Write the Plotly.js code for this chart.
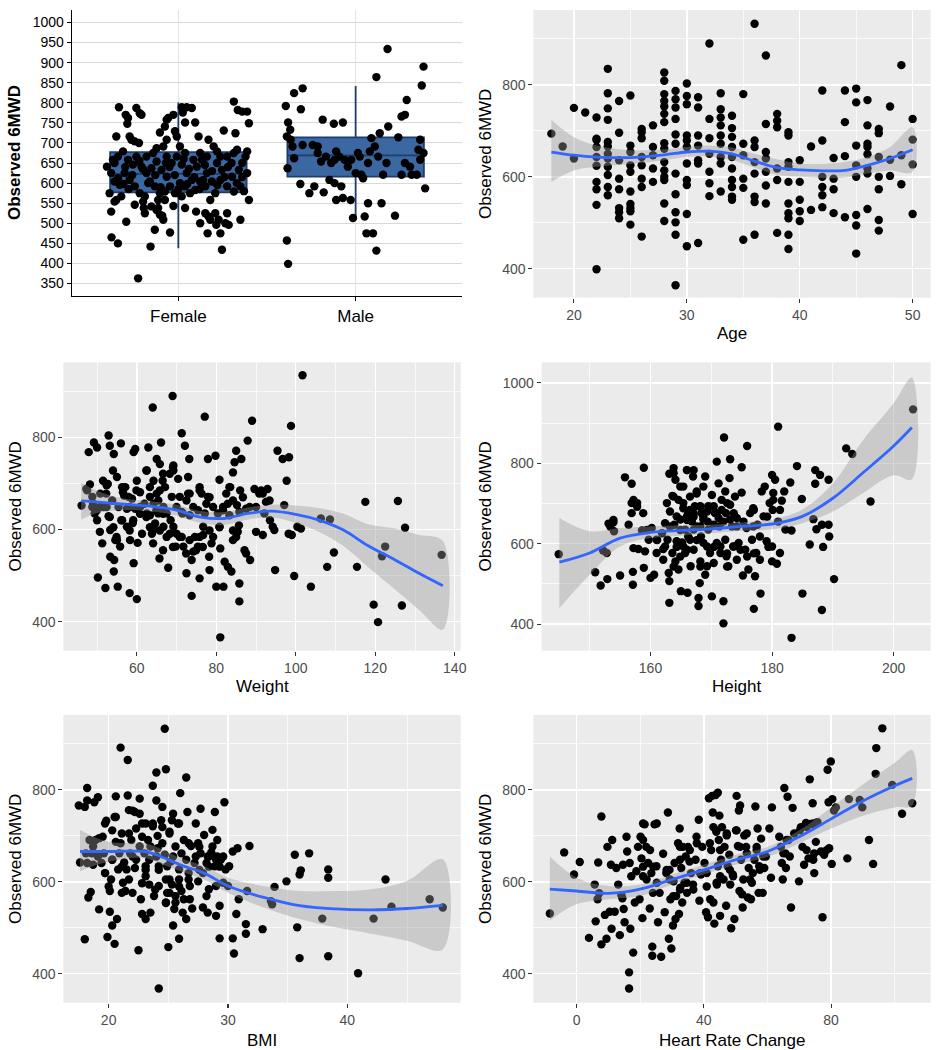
<!DOCTYPE html>
<html>
<head>
<meta charset="utf-8">
<script src="https://cdn.plot.ly/plotly-3.0.1.min.js"></script>
<style>html,body{margin:0;padding:0;background:#fff;}#chart{width:940px;height:1050px;}</style>
</head>
<body>
<div id="chart"></div>
<script>
// ---------- Panel 1: Sex (box + jitter) ----------
const sexCategories = ['Female', 'Male'];
const boxQ1 = [577, 616];
const boxMedian = [623, 669];
const boxQ3 = [677, 714];
const boxLowerFence = [438, 513];
const boxUpperFence = [801, 842];

const femalePoints = [
[0.665,789],[0.763,787],[0.782,774],[0.703,770],[0.716,762],[0.712,748],[0.650,716],[0.725,716],[0.735,708],[0.754,704],
[0.778,700],[0.792,770],[0.943,762],[0.934,758],[0.924,741],[0.972,770],[0.981,729],[0.991,716],[1.019,789],[1.025,776],
[1.047,789],[1.076,787],[1.038,751],[1.095,751],[1.114,716],[1.170,708],[1.256,731],[1.322,724],[1.313,803],[1.335,782],
[1.360,778],[1.388,778],[1.398,749],[0.896,726],[0.915,691],[0.934,708],[1.009,691],[1.199,691],
[0.597,641],[0.631,658],[0.659,666],[0.688,679],[0.716,658],[0.744,646],[0.763,666],[0.792,641],[0.820,625],[0.848,637],
[0.877,654],[0.905,633],[0.934,616],[0.962,650],[0.991,666],[1.019,646],[1.047,625],[1.076,608],[1.104,641],[1.133,658],
[1.161,625],[1.189,604],[1.218,650],[1.246,633],[1.275,666],[1.303,616],[1.331,683],[1.360,650],[1.379,666],[1.350,592],
[1.313,579],[1.275,592],[1.237,608],[1.208,575],[1.180,558],[1.152,592],[1.123,604],[1.095,583],[1.066,575],[1.038,592],
[1.009,600],[0.981,575],[0.953,592],[0.924,579],[0.896,575],[0.867,592],[0.839,604],[0.811,567],[0.782,575],[0.754,592],
[0.725,608],[0.697,625],[0.669,596],[0.640,604],[0.621,625],[0.612,575],[0.650,558],[0.678,567],[0.820,666],[0.858,675],
[1.123,675],[1.161,666],[1.218,679],[1.237,666],[1.313,675],[1.341,633],[1.388,625],[1.388,679],[1.038,675],[1.085,658],
[0.934,666],[0.877,687],[1.019,567],[0.924,558],[0.886,558],[0.801,554],[0.848,542],[0.886,538],
[0.66,612],[0.70,640],[0.74,620],[0.78,655],[0.83,600],[0.87,620],[0.90,590],[0.95,640],[0.98,620],[1.00,585],
[1.03,660],[1.06,635],[1.09,615],[1.12,585],[1.15,645],[1.19,630],[1.22,595],[1.26,615],[1.30,650],[1.33,600],
[1.36,615],[1.37,580],[0.72,585],[0.80,635],[0.93,650],[1.05,598],[1.14,608],[1.28,640],[0.64,650],[0.69,598],
[0.621,529],[0.640,554],[0.706,504],[0.623,465],[0.659,450],[0.754,546],[0.805,538],[0.811,525],[0.843,442],[0.867,484],
[0.877,533],[0.896,521],[0.909,519],[0.915,509],[0.953,477],[0.972,543],[1.038,538],[1.100,529],[1.123,500],[1.152,525],
[1.170,517],[1.180,509],[1.208,525],[1.214,496],[1.227,509],[1.237,475],[1.246,434],[1.265,500],[1.275,525],[1.284,496],
[1.350,509],[1.398,558],[0.773,363],[1.165,475]
];

const malePoints = [
[1.606,792],[1.653,824],[1.701,836],[1.691,784],[1.619,751],[1.631,733],[1.612,716],[1.634,708],[1.616,637],[1.644,691],
[1.653,662],[1.701,695],[1.758,695],[1.688,598],[1.739,575],[1.767,592],[1.814,758],[1.820,577],[1.877,748],[1.928,751],
[1.786,675],[1.805,654],[1.833,666],[1.862,650],[1.890,679],[1.909,666],[1.938,658],[1.956,641],[1.881,600],[1.919,592],
[1.928,563],[1.890,558],[1.972,558],[1.985,513],[2.013,675],[2.032,621],[2.042,612],[2.070,550],[2.061,475],[2.098,475],
[2.117,432],[2.089,712],[2.108,691],[2.136,724],[2.117,864],[2.146,550],[2.155,621],[2.184,741],[2.180,934],[2.174,650],
[2.127,666],[2.070,650],[2.080,679],[2.222,519],[2.241,714],[2.259,766],[2.278,770],[2.288,807],[2.278,650],[2.307,641],
[2.259,621],[2.316,621],[2.345,621],[2.354,683],[2.364,708],[2.383,675],[2.373,843],[2.383,890],[2.392,587],[2.364,658],
[1.612,457],[1.619,399],[1.786,691],[1.975,658],[2.051,517],[1.881,658],[2.000,625],[1.852,608],[2.023,666]
];

// ---------- Panel 2: Age ----------
const agePoints = [
[18,694],[19,666],[20,750],[20,640],[21,740],
[22,729],[22,683],[22,680],[22,665],[22,643],[22,624],[22,589],[22,573],[22,539],[22,399],
[23,835],[23,782],[23,749],[23,724],[23,676],[23,666],[23,650],[23,640],[23,622],[23,604],[23,578],[23,560],
[24,765],[24,696],[24,636],[24,596],[24,573],[24,532],[24,523],[24,510],
[25,777],[25,668],[25,654],[25,625],[25,611],[25,568],[25,541],[25,532],[25,525],[25,496],
[26,704],[26,697],[26,684],[26,643],[26,625],[26,596],[26,578],[26,470],
[27,712],[27,665],[27,647],[27,618],[27,589],
[28,827],[28,809],[28,780],[28,765],[28,753],[28,737],[28,719],[28,673],[28,661],[28,632],[28,614],[28,600],[28,593],[28,542],[28,504],
[29,787],[29,769],[29,751],[29,726],[29,692],[29,672],[29,607],[29,562],[29,523],[29,501],[29,474],[29,364],
[30,803],[30,776],[30,758],[30,690],[30,679],[30,665],[30,629],[30,593],[30,582],[30,519],[30,449],
[31,773],[31,751],[31,690],[31,668],[31,636],[31,629],[31,456],
[32,890],[32,726],[32,684],[32,650],[32,611],[32,586],[32,558],
[33,782],[33,747],[33,729],[33,712],[33,690],[33,672],[33,643],[33,629],[33,568],
[34,733],[34,706],[34,687],[34,665],[34,643],[34,618],[34,593],[34,578],[34,557],[34,550],
[35,780],[35,672],[35,647],[35,596],[35,576],[35,463],
[36,933],[36,679],[36,665],[36,632],[36,607],[36,557],[36,545],[36,474],
[37,864],[37,715],[37,654],[37,640],[37,611],[37,581],[37,542],
[38,737],[38,722],[38,708],[38,618],[38,593],[38,478],
[39,697],[39,690],[39,632],[39,622],[39,589],[39,542],[39,521],[39,510],[39,474],[39,443],
[40,636],[40,589],[40,550],[40,525],[40,504],
[41,666],[41,528],
[42,788],[42,679],[42,600],[42,578],[42,560],[42,534],
[43,641],[43,596],[43,573],[43,521],
[44,788],[44,719],[44,645],[44,512],
[45,792],[45,762],[45,668],[45,625],[45,600],[45,517],[45,494],[45,433],
[46,767],[46,712],[46,672],[46,665],[46,649],[46,618],[46,607],[46,530],
[47,704],[47,695],[47,643],[47,600],[47,573],[47,506],[47,483],
[48,753],[48,637],[48,602],
[49,843],[49,647],[49,584],
[50,726],[50,681],[50,627],[50,519]
];
const ageFitX = [18,20,22,25,28,30,32,34,36,38,40,42,44,46,48,50];
const ageFit  = [654,647,643,642,648,654,656,650,634,620,615,613,614,625,640,659];
const ageHi   = [724,686,668,658,660,665,668,664,650,638,629,628,632,643,665,708];
const ageLo   = [589,614,622,628,636,643,644,636,620,604,600,597,598,607,614,611];

// ---------- Panel 3: Weight ----------
const weightPoints = [
[46.1,652],[47.3,688],[48.2,698],[48.8,671],[47.9,768],[49.2,789],[50.0,778],[49.4,635],[50.0,620],[50.2,496],
[50.7,595],[51.3,570],[50.8,649],[52.1,473],[52.3,678],[52.7,699],[52.9,804],[53.2,782],[52.9,629],[53.3,541],
[54.2,764],[54.0,728],[54.3,534],[54.2,509],[54.6,577],[55.0,577],[55.2,476],[55.0,714],[56.0,787],[56.3,692],
[56.3,620],[56.5,681],[56.8,674],[57.5,645],[57.9,671],[58.2,462],[58.3,577],[59.0,614],[59.2,768],[59.6,775],
[60.0,706],[59.2,527],[60.0,449],[60.2,571],[60.8,681],[61.3,591],[61.9,656],[62.9,778],[62.5,728],[63.3,631],
[63.8,591],[64.0,865],[64.2,706],[64.6,613],[65.0,753],[65.0,678],[65.4,635],[65.7,537],[65.8,742],[66.1,789],
[66.5,706],[67.1,692],[67.5,584],[67.9,517],[68.3,721],[68.5,620],[69.0,890],[69.2,728],[69.2,739],[69.8,563],
[70.0,591],[70.4,710],[70.8,671],[71.3,809],[71.5,635],[71.7,563],[72.1,782],[72.5,505],[72.9,714],[72.9,678],
[73.2,753],[73.3,631],[73.8,534],[73.8,456],[74.2,552],[74.6,584],[75.4,563],[75.8,692],[75.8,494],[76.3,678],
[76.7,588],[77.1,635],[77.1,845],[77.9,753],[77.9,671],[78.2,541],[78.3,512],[78.8,570],[79.8,760],[80.0,476],
[80.4,635],[80.8,708],[80.8,606],[81.0,559],[81.0,366],[81.8,476],[82.1,530],[82.5,678],[82.9,519],[83.3,631],
[83.5,692],[83.8,509],[84.2,724],[84.6,746],[85.0,771],[85.2,653],[85.4,595],[85.7,609],[85.8,483],[85.8,444],
[86.0,685],[86.3,753],[87.1,555],[87.5,548],[87.9,793],[88.5,534],[89.0,836],[89.6,688],[90.0,595],[90.8,678],
[91.7,588],[92.1,635],[92.5,660],[92.9,688],[93.5,620],[94.2,606],[94.6,599],[94.8,512],[95.4,771],[96.7,753],
[97.1,653],[97.7,706],[98.2,591],[98.3,757],[98.8,825],[99.0,588],[99.6,499],[100.4,606],[101.3,602],[101.7,935],
[103.8,476],[106.3,624],[107.9,519],[108.6,622],[109.6,550],[115.4,519],[117.5,660],[119.6,437],[120.7,399],[121.7,542],
[122.5,563],[125.7,662],[126.7,435],[127.5,604],[136.7,545],
[47.5,685],[48.8,649],[50.8,678],[51.7,649],[53.8,663],[55.4,649],[57.1,692],[58.8,667],[59.6,645],[60.8,649],
[62.5,635],[63.3,671],[64.2,656],[65.4,663],[66.7,649],[67.5,635],[68.8,671],[70.0,649],[71.3,638],[72.5,663],
[74.2,649],[75.4,642],[77.5,656],[79.2,649],[81.7,642],[82.9,656],[84.2,663],[85.8,638],[87.5,645],[90.0,649],
[91.3,685],[64.2,599],[66.7,606],[69.2,606],[71.3,584],[76.7,606],[79.2,584],[84.2,577],[57.5,606],[55.8,563],[53.3,599],
[56.1,620],[59.1,620],[63.3,605],[65.8,598],[68.3,591],[70.8,584],[69.1,562],[73.3,577],[75.8,584],[76.6,562],
[78.3,598],[80.8,605],[84.2,598],[85.0,584],[54.1,605],[53.2,627],[62.4,627],[64.9,641],[66.6,634],[56.6,692],
[59.9,685],[62.4,728],[66.6,721],[69.1,735],[63.3,692],[65.8,685],[73.3,678],[75.8,685],[78.3,670],[83.3,692],
[86.7,670],[88.4,649],[91.7,678],[93.4,663],[81.7,649],[49.0,656],[49.9,641],[51.5,706],[52.4,649],[58.2,649],
[60.8,634],[54.9,584],[58.2,598],[64.1,570],[66.6,555],[72.4,548],[74.9,555],[52.4,696]
];
const weightFitX = [46,50,55,60,65,70,76,82,88,94,100,106,112,118,125,131,137];
const weightFit  = [662,660,656,653,649,642,627,624,635,640,633,620,599,566,534,505,478];
const weightHi   = [702,684,670,664,660,654,640,638,648,654,652,646,634,612,602,588,575];
const weightLo   = [622,636,642,642,638,630,614,610,622,626,614,594,564,520,470,426,383];

// ---------- Panel 4: Height ----------
const heightPoints = [
[144.9,574],[150.9,529],[151.8,496],[152.2,583],[152.8,577],[152.9,512],[153.1,650],[153.9,653],[154.0,631],[155.0,521],
[155.8,765],[156.4,647],[156.9,749],[156.9,701],[156.9,676],[157.2,589],[157.1,530],[157.1,498],[157.8,701],[158.0,587],
[158.6,633],[158.8,676],[158.9,789],[158.9,540],[159.1,581],[159.7,610],[160.0,515],[160.2,639],[160.6,523],[161.0,610],
[161.9,626],[162.1,587],[162.4,651],[162.7,701],[162.8,610],[163.0,527],[163.1,507],[163.1,453],[163.1,774],[163.2,680],
[163.6,719],[163.6,577],[163.8,788],[163.9,647],[164.1,556],[164.1,759],[164.3,592],[164.6,709],[164.6,536],[164.9,660],
[165.0,482],[165.2,603],[165.4,742],[165.4,688],[165.7,635],[165.7,577],[166.0,783],[166.1,478],[166.2,676],[166.5,717],
[166.5,610],[166.6,544],[166.8,655],[167.0,767],[167.1,585],[167.3,693],[167.6,730],[167.6,643],[167.9,465],[167.9,445],
[168.1,502],[168.2,556],[168.3,618],[168.4,676],[168.7,602],[168.7,742],[169.0,767],[169.0,523],[169.3,544],[169.4,655],
[169.5,693],[169.8,577],[170.1,721],[170.1,469],[170.4,592],[170.6,676],[170.9,804],[170.9,602],[171.2,750],[171.3,643],
[171.5,577],[171.7,709],[172.0,457],[172.0,402],[172.1,864],[172.3,730],[172.3,610],[172.4,676],[172.5,569],[172.8,544],
[173.0,763],[173.1,810],[173.1,697],[173.4,643],[173.6,593],[173.9,717],[174.2,664],[174.2,560],[174.5,602],[175.0,727],
[175.0,790],[175.2,521],[175.6,585],[175.8,639],[175.9,843],[176.1,536],[176.4,676],[176.7,610],[176.9,688],[177.0,438],
[177.2,519],[177.4,577],[177.6,647],[178.0,560],[178.1,476],[178.3,730],[178.6,668],[178.8,742],[179.1,606],[179.4,592],
[179.6,701],[180.0,771],[180.0,593],[180.0,556],[180.1,684],[180.2,726],[180.5,759],[180.8,550],[181.0,891],[181.0,655],
[181.3,577],[181.6,707],[182.0,730],[182.2,635],[183.0,752],[183.2,633],[183.2,366],[184.1,793],[184.9,711],[185.0,476],
[186.2,598],[186.8,661],[187.1,783],[187.1,749],[187.3,636],[187.9,771],[188.2,647],[188.2,435],[188.4,592],[189.3,759],
[189.3,647],[189.4,618],[190.2,512],[192.2,837],[193.2,823],[196.2,705],[203.2,934],
[164.3,606],[165.4,593],[166.2,618],[167.1,635],[168.2,643],[168.7,660],[169.5,635],[170.4,647],[171.2,664],[172.0,655],
[173.1,660],[174.2,643],[175.3,655],[166.0,668],[167.1,676],[168.2,693],[169.3,680],[170.4,693],[171.7,684],[164.3,668],
[163.2,643],[162.4,593],[161.0,577],[176.9,643],[178.0,618],
[163.8,775],[166.0,783],[167.1,783],[164.9,742],[167.6,725],[163.8,717],[165.4,701],[166.5,684],[168.2,692],[169.8,692],
[170.9,676],[172.6,701],[173.7,676],[167.1,667],[168.7,667],[166.0,659],[164.9,634],[167.6,609],[169.3,593],[166.0,585],
[164.9,568],[171.5,593],[172.6,576],[173.7,593],[174.8,585],[175.9,568],[162.1,560],[161.1,609],[159.4,634],[157.2,709],
[157.8,692],[153.9,659],[153.4,642],[177.0,684],[179.2,667],[180.2,709],[181.3,684],[170.4,552],[168.2,543],[163.8,543],
[172.6,543],[177.0,576]
];
const heightFitX = [145,150,155,160,165,170,175,180,185,190,195,200,203];
const heightFit  = [554,577,614,628,633,637,643,649,668,713,777,843,889];
const heightHi   = [664,631,639,643,646,647,653,660,685,750,858,949,1013];
const heightLo   = [440,523,593,614,620,626,632,636,651,680,726,770,760];

// ---------- Panel 5: BMI ----------
const bmiPoints = [
[17.6,642],[17.5,766],[18.0,763],[18.0,475],[18.2,804],[18.2,777],[18.2,641],[18.3,566],[18.4,691],[18.5,578],
[18.7,637],[18.8,773],[19.1,784],[19.2,540],[19.2,695],[19.4,641],[19.5,698],[19.7,619],[19.8,733],[19.9,480],
[20.1,535],[20.1,580],[20.2,605],[20.3,505],[20.5,465],[20.5,741],[20.6,687],[20.6,786],[20.7,519],[20.8,627],
[20.9,662],[21.0,892],[21.1,705],[21.2,598],[21.3,642],[21.4,580],[21.6,865],[21.6,788],[21.7,756],[21.8,662],
[21.9,691],[22.0,576],[22.2,752],[22.2,630],[22.3,716],[22.5,451],[22.6,781],[22.7,562],[22.8,530],[22.8,727],
[23.0,662],[23.1,519],[23.1,612],[23.3,691],[23.4,594],[23.4,648],[23.5,533],[23.7,809],[23.7,721],[23.8,569],
[24.0,838],[24.0,777],[24.1,700],[24.1,673],[24.2,368],[24.2,634],[24.4,734],[24.5,763],[24.7,659],[24.7,933],
[24.8,845],[24.8,605],[24.9,576],[25.0,458],[25.1,709],[25.2,644],[25.3,594],[25.4,748],[25.4,505],[25.6,677],
[25.6,555],[25.8,727],[25.9,627],[25.9,476],[26.0,793],[26.1,580],[26.1,662],[26.2,533],[26.3,691],[26.5,519],
[26.5,827],[26.6,752],[26.7,619],[26.8,562],[26.9,678],[27.0,542],[27.2,641],[27.3,727],[27.5,684],[27.5,601],
[27.7,759],[27.7,662],[27.9,544],[28.0,702],[28.2,641],[28.3,533],[28.4,584],[28.6,664],[28.7,713],[28.9,752],
[28.9,634],[29.0,526],[29.1,691],[29.3,548],[29.3,477],[29.4,648],[29.6,598],[29.7,773],[29.8,627],[30.0,591],
[30.1,634],[30.4,477],[30.4,666],[30.5,444],[30.7,530],[30.8,673],[30.9,562],[31.5,508],[31.5,487],[31.6,580],
[31.8,678],[32.9,497],[33.6,558],[33.7,551],[33.9,589],[34.9,601],[35.6,659],[35.8,501],[36.0,434],[36.0,616],
[36.1,625],[36.8,662],[37.9,520],[38.4,627],[38.4,609],[38.4,438],[40.9,401],[42.2,520],[43.2,605],[43.7,546],
[46.9,562],[48.0,544],
[18.1,662],[18.7,677],[19.1,655],[19.6,662],[20.3,648],[21.0,684],[21.5,627],[22.0,655],[22.6,677],[23.1,634],
[23.5,677],[24.0,655],[24.5,684],[24.9,634],[25.4,655],[25.9,605],[26.5,648],[26.8,591],[27.3,655],[27.9,619],
[28.3,655],[28.7,677],[29.1,655],[29.6,655],[29.0,591],[28.2,569],[24.2,591],[24.8,555],[25.5,541],[26.3,562],
[19.7,727],[20.3,712],[20.6,741],[22.0,755],[22.6,748],[23.1,727],[23.7,727],[24.5,719],[25.3,734],[25.9,727],
[21.7,705],[22.8,698],[25.1,705],[26.7,684],[27.6,676],[28.4,655],[29.0,648],[28.4,633],[29.3,633],[20.3,648],
[21.1,633],[22.3,648],[23.1,626],[24.2,626],[25.1,605],[25.9,590],[26.7,605],[27.6,626],[19.7,619],[20.0,590],
[21.1,576],[22.8,597],[23.9,583],[25.1,576],[25.6,569],[24.8,554],[21.7,605],[18.9,691],[18.6,662]
];
const bmiFitX = [17.6,20,23,24,26,28,30,33,36,39,42,45,48];
const bmiFit  = [666,666,666,659,637,619,591,566,548,541,539,542,549];
const bmiHi   = [713,687,684,676,652,634,609,591,580,580,584,602,649];
const bmiLo   = [623,644,652,643,623,605,576,544,519,501,487,472,453];

// ---------- Panel 6: Heart Rate Change ----------
const hrPoints = [
[-8.4,531],[-3.9,664],[-0.8,616],[1.0,643],[3.9,478],[5.7,594],[6.0,514],[6.6,562],[6.8,642],[7.1,575],
[7.8,742],[7.8,464],[8.9,528],[9.4,476],[9.7,676],[10.4,535],[10.8,637],[11.0,498],[11.2,691],[12.0,535],
[12.5,630],[13.1,594],[13.6,484],[14.1,571],[14.4,564],[14.6,637],[14.8,541],[15.1,512],[15.7,698],[15.9,666],
[16.5,403],[16.5,368],[16.7,641],[16.9,498],[17.2,612],[17.8,446],[18.3,555],[18.8,623],[19.3,676],[19.8,562],
[20.1,698],[20.4,651],[20.7,521],[20.9,612],[21.4,725],[21.9,676],[22.5,641],[23.0,542],[23.5,619],[23.8,459],
[23.8,439],[24.0,576],[24.5,725],[25.1,634],[25.6,512],[26.1,576],[26.6,437],[27.2,661],[27.7,534],[28.2,619],
[28.7,751],[29.0,476],[29.2,626],[29.5,562],[29.8,455],[30.3,505],[30.5,601],[30.8,641],[31.1,519],[31.3,569],
[31.9,684],[32.2,530],[32.4,716],[32.6,587],[32.9,630],[33.2,555],[33.4,676],[33.9,598],[34.3,655],[34.7,576],
[35.0,676],[35.5,644],[36.0,619],[36.6,594],[37.4,648],[37.8,684],[38.4,735],[38.6,559],[39.1,616],[39.5,676],
[40.2,641],[40.7,534],[40.9,619],[41.3,523],[41.6,782],[42.0,562],[42.3,669],[42.6,787],[42.8,751],[43.0,555],
[43.3,509],[43.7,789],[43.9,709],[44.1,594],[44.4,794],[44.4,634],[44.7,691],[44.9,744],[45.1,526],[45.4,648],
[45.7,719],[46.2,605],[46.5,676],[47.0,548],[47.2,701],[47.5,634],[48.0,659],[48.3,594],[48.6,499],[49.1,616],
[49.6,519],[50.1,712],[50.3,787],[50.7,678],[51.0,755],[51.2,580],[51.4,766],[51.7,648],[52.0,573],[52.2,544],
[52.4,605],[52.7,701],[53.3,676],[53.8,566],[54.1,630],[54.8,562],[55.1,598],[55.4,619],[55.9,648],[56.2,764],
[56.6,676],[56.9,716],[57.2,576],[57.4,634],[58.0,694],[58.5,576],[59.0,630],[59.5,655],[60.6,716],[61.1,609],
[61.4,762],[63.7,698],[64.2,676],[64.5,641],[64.8,605],[65.3,804],[65.6,662],[65.8,630],[66.3,785],[66.6,691],
[67.0,655],[67.4,544],[67.9,761],[68.4,705],[69.9,601],[70.5,719],[71.0,676],[71.5,637],[72.1,728],[72.9,651],
[73.3,823],[73.6,726],[74.2,771],[74.7,662],[74.7,619],[75.2,687],[75.7,730],[76.8,666],[77.3,523],[77.8,659],
[78.9,844],[79.2,773],[79.4,673],[79.9,862],[80.2,639],[80.4,780],[80.9,755],[81.5,762],[85.1,651],[85.6,780],
[89.0,778],[89.8,762],[91.9,691],[93.2,639],[94.0,835],[94.2,891],[96.1,934],[99.2,811],[102.3,748],[105.5,771],
[20.9,727],[25.2,727],[20.9,691],[23.1,669],[20.9,633],[24.1,633],[28.3,626],[32.5,648],[35.6,669],[32.5,676],
[37.7,698],[41.9,684],[45.1,669],[44.0,712],[47.2,705],[50.3,712],[53.5,705],[51.4,676],[53.5,662],[56.6,669],
[48.2,626],[45.1,612],[38.8,619],[34.6,598],[32.5,583],[36.7,583],[40.9,590],[44.0,598],[49.2,612],[54.5,605],
[57.6,626],[58.7,655],[25.2,598],[22.0,605],[29.3,605],[30.4,569],[43.0,719],[72.3,719],[74.4,727],[70.2,712],
[66.0,691],[65.0,662],[72.3,669],[74.4,648],[78.6,669]
];
const hrFitX = [-8.4,0,10,20,30,40,50,60,70,80,90,100,105.5];
const hrFit  = [584,580,575,584,605,626,648,666,698,737,776,809,825];
const hrHi   = [655,609,591,594,616,637,659,676,712,762,812,859,887];
const hrLo   = [516,551,562,569,594,616,637,654,684,716,744,762,766];

// ---------- Build figure ----------
const FONT = 'Liberation Sans, Arial, Helvetica, sans-serif';
const W = 940, H = 1050;
const px = v => v / W;
const py = v => 1 - v / H;
const DOT = 8.4;

function pointsTrace(pts, xa, ya) {
  return {type: 'scatter', mode: 'markers', x: pts.map(p => p[0]), y: pts.map(p => p[1]),
    xaxis: xa, yaxis: ya, marker: {color: '#000000', size: DOT, line: {width: 0}}, hoverinfo: 'skip'};
}
function ribbonTrace(fx, hi, lo, xa, ya) {
  return {type: 'scatter', mode: 'lines', x: fx.concat(fx.slice().reverse()),
    y: hi.concat(lo.slice().reverse()), fill: 'toself', fillcolor: 'rgba(153,153,153,0.4)',
    line: {width: 0, shape: 'spline'}, xaxis: xa, yaxis: ya, hoverinfo: 'skip'};
}
function fitTrace(fx, fy, xa, ya) {
  return {type: 'scatter', mode: 'lines', x: fx, y: fy, line: {color: '#3366FF', width: 2.8, shape: 'spline'},
    xaxis: xa, yaxis: ya, hoverinfo: 'skip'};
}

const traces = [
  {type: 'box', x: [1, 2], q1: boxQ1, median: boxMedian, q3: boxQ3, lowerfence: boxLowerFence,
   upperfence: boxUpperFence, width: 0.77, whiskerwidth: 0, boxpoints: false,
   fillcolor: '#3B68A3', line: {color: '#1E3C6C', width: 1.8}, xaxis: 'x', yaxis: 'y', hoverinfo: 'skip'},
  pointsTrace(femalePoints, 'x', 'y'),
  pointsTrace(malePoints, 'x', 'y'),
  pointsTrace(agePoints, 'x2', 'y2'),
  ribbonTrace(ageFitX, ageHi, ageLo, 'x2', 'y2'),
  fitTrace(ageFitX, ageFit, 'x2', 'y2'),
  pointsTrace(weightPoints, 'x3', 'y3'),
  ribbonTrace(weightFitX, weightHi, weightLo, 'x3', 'y3'),
  fitTrace(weightFitX, weightFit, 'x3', 'y3'),
  pointsTrace(heightPoints, 'x4', 'y4'),
  ribbonTrace(heightFitX, heightHi, heightLo, 'x4', 'y4'),
  fitTrace(heightFitX, heightFit, 'x4', 'y4'),
  pointsTrace(bmiPoints, 'x5', 'y5'),
  ribbonTrace(bmiFitX, bmiHi, bmiLo, 'x5', 'y5'),
  fitTrace(bmiFitX, bmiFit, 'x5', 'y5'),
  pointsTrace(hrPoints, 'x6', 'y6'),
  ribbonTrace(hrFitX, hrHi, hrLo, 'x6', 'y6'),
  fitTrace(hrFitX, hrFit, 'x6', 'y6')
];

function ggAxis(domain, range, dtick, minorDtick, anchor) {
  return {domain: domain, range: range, tick0: 0, dtick: dtick, anchor: anchor,
    showgrid: true, gridcolor: '#FFFFFF', gridwidth: 1.4,
    minor: {dtick: minorDtick, tick0: 0, showgrid: true, gridcolor: '#FFFFFF', gridwidth: 0.7},
    zeroline: false, showline: false, ticks: 'outside', ticklen: 4, tickwidth: 1.1, tickcolor: '#333333',
    tickfont: {family: FONT, size: 14, color: '#4D4D4D'}, fixedrange: true};
}

const layout = {
  width: W, height: H, margin: {l: 0, r: 0, t: 0, b: 0},
  paper_bgcolor: '#FFFFFF', plot_bgcolor: '#EBEBEB', showlegend: false,
  font: {family: FONT},
  xaxis: {domain: [px(72), px(462)], range: [0.4, 2.6], anchor: 'y', tickvals: [1, 2], ticktext: sexCategories,
    showgrid: true, gridcolor: '#E3E3E3', gridwidth: 1, zeroline: false, showline: true, linecolor: '#000000', linewidth: 1.3,
    ticks: 'outside', ticklen: 4, tickcolor: '#000000', tickfont: {family: FONT, size: 17, color: '#000000'}, fixedrange: true},
  yaxis: {domain: [py(296), py(10)], range: [319, 1031], anchor: 'x', tick0: 0, dtick: 50,
    showgrid: true, gridcolor: '#D9D9D9', gridwidth: 1, zeroline: false, showline: true, linecolor: '#000000', linewidth: 1.3,
    ticks: 'outside', ticklen: 4, tickcolor: '#000000', tickfont: {family: FONT, size: 14, color: '#000000'}, fixedrange: true},
  xaxis2: ggAxis([px(533.3), px(930.7)], [16.4, 51.6], 10, 5, 'y2'),
  yaxis2: ggAxis([py(297.7), py(10)], [337, 963], 200, 100, 'x2'),
  xaxis3: ggAxis([px(63.3), px(460.7)], [41.5, 141.5], 20, 10, 'y3'),
  yaxis3: ggAxis([py(650.7), py(362.3)], [337, 963], 200, 100, 'x3'),
  xaxis4: ggAxis([px(541.7), px(930.7)], [142.1, 206.1], 20, 10, 'y4'),
  yaxis4: ggAxis([py(650.7), py(362.3)], [334, 1051], 200, 100, 'x4'),
  xaxis5: ggAxis([px(63.3), px(460.7)], [16.2, 49.5], 10, 5, 'y5'),
  yaxis5: ggAxis([py(1002.7), py(715)], [337, 963], 200, 100, 'x5'),
  xaxis6: ggAxis([px(533.3), px(930.7)], [-13.6, 111.3], 40, 20, 'y6'),
  yaxis6: ggAxis([py(1002.7), py(715)], [337, 963], 200, 100, 'x6'),
  shapes: [
    {type: 'rect', xref: 'x domain', yref: 'y domain', x0: 0, x1: 1, y0: 0, y1: 1,
     fillcolor: '#FFFFFF', line: {width: 0}, layer: 'below'}
  ],
  annotations: []
};

function title(text, xPix, yPix, rot, bold) {
  layout.annotations.push({text: bold ? '<b>' + text + '</b>' : text, xref: 'paper', yref: 'paper',
    x: px(xPix), y: py(yPix), xanchor: 'center', yanchor: 'middle', showarrow: false,
    textangle: rot ? -90 : 0, font: {family: FONT, size: 17, color: '#000000'}});
}
title('Observed 6MWD', 15, 153, true, true);
title('Observed 6MWD', 485, 154, true, false);
title('Age', 732, 333, false, false);
title('Observed 6MWD', 15, 506.5, true, false);
title('Weight', 262, 686.7, false, false);
title('Observed 6MWD', 485, 506.5, true, false);
title('Height', 736.2, 686.7, false, false);
title('Observed 6MWD', 15, 859, true, false);
title('BMI', 262, 1040, false, false);
title('Observed 6MWD', 485, 859, true, false);
title('Heart Rate Change', 732, 1040, false, false);

Plotly.newPlot('chart', traces, layout, {displayModeBar: false, staticPlot: true});
</script>
</body>
</html>
